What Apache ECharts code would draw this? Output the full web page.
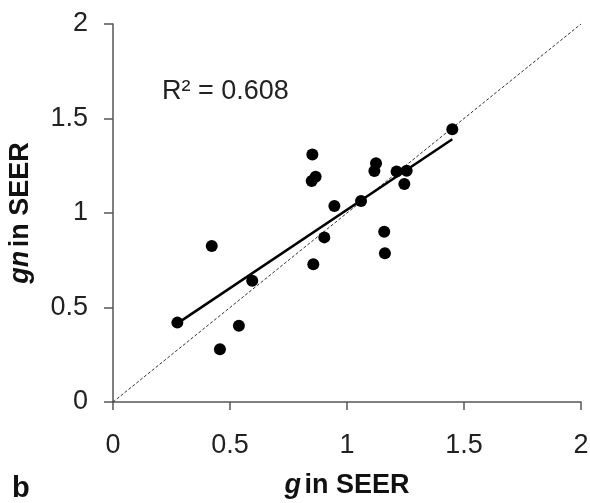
<!DOCTYPE html>
<html><head><meta charset="utf-8">
<script src="https://cdn.jsdelivr.net/npm/echarts@6/dist/echarts.min.js"></script>
<style>html,body{margin:0;padding:0;background:#fff}#c{width:590px;height:503px}</style>
</head><body><div id="c"></div>
<script>
const xTicks = [0, 0.5, 1, 1.5, 2];
const yTicks = [0, 0.5, 1, 1.5, 2];
const gSEER = [0.275,0.422,0.595,0.457,0.538,0.852,0.866,0.849,0.946,1.060,1.124,1.117,1.212,1.255,1.245,1.450,0.903,1.159,0.856,1.162];
const gnSEER = [0.420,0.825,0.642,0.279,0.404,1.310,1.192,1.169,1.037,1.063,1.263,1.222,1.219,1.224,1.153,1.443,0.871,0.901,0.729,0.787];
const fitX = [0.28, 1.45];
const fitY = [0.42, 1.39];
const idX = [0, 2];
const idY = [0, 2];
const r2Text = 'R² = 0.608';

const pts = gSEER.map((v,i)=>[v, gnSEER[i]]);
const fit = fitX.map((v,i)=>[v, fitY[i]]);
const ident = idX.map((v,i)=>[v, idY[i]]);
const font = 'Liberation Sans, Arial, sans-serif';
const chart = echarts.init(document.getElementById('c'));
chart.setOption({
  animation:false,
  grid:{left:113, right:9, top:24, bottom:101, containLabel:false, outerBoundsMode:'none'},
  xAxis:{type:'value', min:xTicks[0], max:xTicks[xTicks.length-1], interval:0.5,
    axisLine:{lineStyle:{color:'#555', width:1.5}},
    axisTick:{show:true, length:8, lineStyle:{color:'#555', width:1.5}},
    splitLine:{show:false},
    axisLabel:{color:'#222', fontSize:27, fontFamily:font, margin:30},
    name:'{i|g} {n|in SEER}', nameLocation:'middle', nameGap:70,
    nameTextStyle:{rich:{i:{fontStyle:'italic', fontWeight:'bold', fontSize:27, fontFamily:font, color:'#111'}, n:{fontWeight:'bold', fontSize:27, fontFamily:font, color:'#111'}}}
  },
  yAxis:{type:'value', min:yTicks[0], max:yTicks[yTicks.length-1], interval:0.5,
    axisLine:{show:true, lineStyle:{color:'#555', width:1.5}},
    axisTick:{show:true, length:9, lineStyle:{color:'#555', width:1.5}},
    splitLine:{show:false},
    axisLabel:{color:'#222', fontSize:27, fontFamily:font, margin:25},
    name:'{i|gn} {n|in SEER}', nameLocation:'middle', nameGap:79,
    nameTextStyle:{rich:{i:{fontStyle:'italic', fontWeight:'bold', fontSize:27, fontFamily:font, color:'#111'}, n:{fontWeight:'bold', fontSize:27, fontFamily:font, color:'#111'}}}
  },
  graphic:[
    {type:'text', left:12, top:474, style:{text:'b', font:'bold 29px '+font, fill:'#111'}},
    {type:'text', left:162, top:78, style:{text:r2Text, font:'27px '+font, fill:'#222'}}
  ],
  series:[
    {type:'line', data:ident, symbol:'none', silent:true, lineStyle:{color:'#333', width:1, type:[3,2]}, z:1},
    {type:'line', data:fit, symbol:'none', silent:true, lineStyle:{color:'#000', width:2.5}, z:2},
    {type:'scatter', data:pts, symbol:'circle', symbolSize:12, itemStyle:{color:'#000', opacity:1}, z:3}
  ]
});
</script></body></html>
